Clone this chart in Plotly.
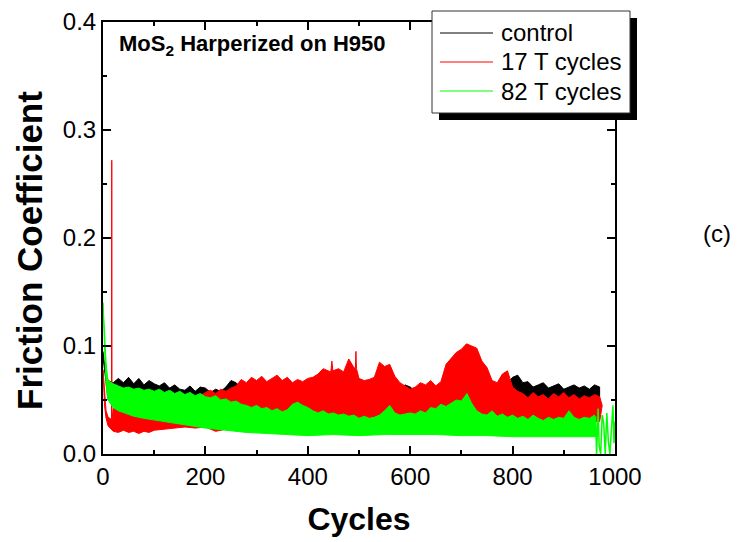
import plotly.graph_objects as go

# ---- friction traces, read as upper / lower envelopes of each noisy record ----
control_top_x = [0, 5, 10, 20, 30, 40, 50, 60, 70, 80, 90, 100,
                 110, 120, 130, 140, 150, 160, 170, 180, 190, 200,
                 210, 220, 230, 240, 250, 260, 270, 280, 290, 300,
                 310, 320, 330, 340, 350, 360, 370, 380, 390, 400,
                 410, 420, 430, 440, 450, 460, 470, 480, 490, 500,
                 510, 520, 530, 540, 550, 560, 570, 580, 590, 600,
                 610, 620, 630, 640, 650, 660, 670, 680, 690, 700,
                 710, 720, 730, 740, 750, 760, 770, 780, 790, 800,
                 810, 820, 830, 840, 850, 860, 870, 880, 890, 900,
                 910, 920, 930, 940, 950, 960, 970]
control_top = [0.095, 0.075, 0.068, 0.066, 0.070, 0.066, 0.071, 0.065, 0.070, 0.064, 0.068, 0.065,
               0.063, 0.066, 0.061, 0.064, 0.060, 0.059, 0.063, 0.058, 0.062, 0.061,
               0.057, 0.060, 0.058, 0.062, 0.068, 0.066, 0.061, 0.058, 0.057, 0.057,
               0.056, 0.058, 0.057, 0.056, 0.058, 0.056, 0.059, 0.062, 0.060, 0.056,
               0.056, 0.057, 0.056, 0.057, 0.056, 0.057, 0.056, 0.057, 0.056, 0.057,
               0.056, 0.057, 0.056, 0.057, 0.056, 0.057, 0.058, 0.060, 0.064, 0.062,
               0.058, 0.063, 0.060, 0.064, 0.062, 0.060, 0.058, 0.058, 0.058, 0.058,
               0.058, 0.058, 0.058, 0.058, 0.058, 0.058, 0.058, 0.058, 0.066, 0.071,
               0.073, 0.066, 0.067, 0.062, 0.064, 0.066, 0.061, 0.063, 0.065, 0.060,
               0.062, 0.064, 0.061, 0.063, 0.060, 0.064, 0.062]
control_bottom_x = [0, 10, 50, 150, 300, 500, 700, 900, 970]
control_bottom = [0.090, 0.050, 0.047, 0.045, 0.043, 0.043, 0.043, 0.043, 0.043]

t17_top_x = [0, 3, 6, 10, 16.6, 17.1, 17.6, 20, 40, 60, 80, 100, 120, 140, 160, 180, 190,
             200, 210, 220, 230, 240, 250, 260, 270, 280, 290, 300,
             310, 320, 330, 340, 350, 360, 370, 380, 390, 400,
             410, 420, 430, 440, 445, 447, 449, 460, 470, 480, 490, 493, 494, 495, 500,
             510, 520, 530, 540, 550, 560, 570, 580, 590, 600,
             610, 620, 630, 640, 650, 660, 670, 680, 690, 700,
             710, 720, 730, 740, 750, 760, 770, 780, 790, 800,
             810, 820, 830, 840, 850, 860, 870, 880, 890, 900,
             910, 920, 930, 940, 950, 960, 970, 975]
t17_top = [0.078, 0.055, 0.040, 0.034, 0.032, 0.272, 0.032, 0.042, 0.045, 0.046, 0.047, 0.048,
           0.049, 0.050, 0.050, 0.052, 0.054,
           0.057, 0.059, 0.056, 0.060, 0.058, 0.061, 0.063, 0.069, 0.066, 0.071, 0.068,
           0.072, 0.067, 0.070, 0.073, 0.068, 0.071, 0.066, 0.069, 0.067, 0.070,
           0.071, 0.074, 0.079, 0.077, 0.076, 0.086, 0.077, 0.079, 0.076, 0.088, 0.080, 0.079, 0.095, 0.079, 0.070,
           0.068, 0.069, 0.071, 0.085, 0.081, 0.083, 0.072, 0.066, 0.063, 0.060,
           0.062, 0.066, 0.064, 0.068, 0.063, 0.067, 0.083, 0.088, 0.094, 0.097,
           0.102, 0.100, 0.098, 0.086, 0.080, 0.068, 0.066, 0.074, 0.077, 0.062,
           0.058, 0.056, 0.052, 0.057, 0.053, 0.055, 0.051, 0.056, 0.053, 0.057,
           0.052, 0.055, 0.051, 0.054, 0.052, 0.055, 0.053, 0.045]
t17_bottom_x = [0, 3, 6, 10, 20, 30, 40, 50, 60, 70, 80, 90, 100, 120, 140, 160, 180,
                200, 220, 240, 260, 280, 300, 500, 700, 900, 970, 975]
t17_bottom = [0.078, 0.045, 0.033, 0.026, 0.021, 0.020, 0.022, 0.020, 0.021, 0.019, 0.021, 0.020,
              0.022, 0.023, 0.024, 0.025, 0.024, 0.025, 0.021, 0.023, 0.022, 0.026, 0.030,
              0.030, 0.030, 0.030, 0.030, 0.045]

t82_top_x = [0, 2, 4, 6, 8, 10, 20, 30, 40, 50, 60, 70, 80, 90, 100,
             110, 120, 130, 140, 150, 160, 170, 180, 190, 200,
             210, 220, 230, 240, 250, 260, 270, 280, 290, 300,
             310, 320, 330, 340, 350, 360, 370, 380, 390, 400,
             410, 420, 430, 440, 450, 460, 470, 480, 490, 500,
             510, 520, 530, 540, 550, 560, 570, 580, 590, 600,
             610, 620, 630, 640, 650, 660, 670, 680, 690, 700, 711,
             720, 730, 740, 750, 760, 770, 780, 790, 800,
             810, 820, 830, 840, 850, 860, 870, 880, 890, 900,
             910, 920, 930, 940, 950, 960, 962]
t82_top = [0.140, 0.118, 0.098, 0.085, 0.075, 0.068,
           0.065, 0.063, 0.061, 0.062, 0.060, 0.061, 0.059, 0.060, 0.058,
           0.060, 0.057, 0.059, 0.056, 0.058, 0.055, 0.057, 0.054, 0.056, 0.053,
           0.052, 0.054, 0.050, 0.051, 0.048, 0.049, 0.046, 0.045, 0.043, 0.045,
           0.042, 0.043, 0.040, 0.042, 0.039, 0.041, 0.046, 0.048, 0.045, 0.043,
           0.040, 0.038, 0.040, 0.037, 0.038, 0.036, 0.037, 0.035, 0.036, 0.033,
           0.035, 0.033, 0.034, 0.036, 0.040, 0.045, 0.038, 0.036, 0.037, 0.038,
           0.037, 0.040, 0.038, 0.043, 0.042, 0.046, 0.044, 0.047, 0.050, 0.049, 0.056,
           0.047, 0.040, 0.037, 0.036, 0.040, 0.035, 0.037, 0.034, 0.036,
           0.033, 0.035, 0.032, 0.036, 0.033, 0.031, 0.034, 0.032, 0.034, 0.033,
           0.040, 0.034, 0.032, 0.034, 0.033, 0.036, 0.030]
t82_bottom_x = [0, 2, 4, 6, 8, 10, 20, 30, 40, 60, 80, 100, 130, 160, 200, 240, 280, 320,
                360, 400, 450, 500, 550, 600, 650, 700, 750, 800, 850, 900, 962]
t82_bottom = [0.140, 0.110, 0.085, 0.065, 0.055, 0.050, 0.043, 0.040, 0.038, 0.035, 0.033,
              0.031, 0.029, 0.027, 0.024, 0.022, 0.020, 0.019, 0.018, 0.017, 0.018, 0.017,
              0.018, 0.018, 0.018, 0.017, 0.017, 0.016, 0.016, 0.016, 0.016]
# end of the 82 T record, where the signal drops in and out
t82_tail_x = [962, 964, 967, 969, 972, 975, 978, 981, 984, 987, 990, 993, 996, 998, 1000]
t82_tail = [0.035, 0.0, 0.042, 0.008, 0.0, 0.036, 0.028, 0.0, 0.038, 0.012, 0.0, 0.025,
            0.045, 0.010, 0.030]

series_names = ["control", "17 T cycles", "82 T cycles"]
series_colors = ["#000000", "#FF0000", "#00FF00"]

x_ticks = [0, 200, 400, 600, 800, 1000]
y_ticks = [0.0, 0.1, 0.2, 0.3, 0.4]

W, H = 738, 542
ML, MR, MT, MB = 103, 123, 22, 88
PW, PH = W - ML - MR, H - MT - MB

FONT = "Arial, Liberation Sans, Helvetica, sans-serif"


def band(top_x, top_y, bot_x, bot_y):
    """Closed outline: upper envelope left-to-right, lower envelope back."""
    return list(top_x) + list(bot_x)[::-1], list(top_y) + list(bot_y)[::-1]


def px(xp):
    return (xp - ML) / PW


def py(yp):
    return (H - MB - yp) / PH


fig = go.Figure()

bands = [
    (control_top_x, control_top, control_bottom_x, control_bottom),
    (t17_top_x, t17_top, t17_bottom_x, t17_bottom),
    (t82_top_x, t82_top, t82_bottom_x, t82_bottom),
]
for (tx, ty, bx, by), name, color in zip(bands, series_names, series_colors):
    xs, ys = band(tx, ty, bx, by)
    fig.add_trace(go.Scatter(
        x=xs, y=ys, mode="lines", fill="toself", fillcolor=color,
        line=dict(color=color, width=1), name=name, showlegend=False,
        hoverinfo="skip"))

fig.add_trace(go.Scatter(
    x=t82_tail_x, y=t82_tail, mode="lines",
    line=dict(color=series_colors[2], width=1.5), showlegend=False,
    hoverinfo="skip"))

axis_common = dict(
    showline=True, linecolor="black", linewidth=2, mirror="ticks",
    ticks="inside", ticklen=8, tickwidth=2, tickcolor="black",
    showgrid=False, zeroline=False,
    tickfont=dict(family=FONT, size=24, color="black"),
)

fig.update_xaxes(
    range=[0, 1000], tickvals=x_ticks, ticktext=[str(v) for v in x_ticks],
    minor=dict(dtick=100, ticks="inside", ticklen=4, tickwidth=2, tickcolor="black"),
    title=dict(text="Cycles", font=dict(family=FONT, size=32, color="black", weight="bold"),
               standoff=19),
    **axis_common)
fig.update_yaxes(
    range=[0, 0.4], tickvals=y_ticks, ticktext=[f"{v:.1f}" for v in y_ticks],
    minor=dict(dtick=0.05, ticks="inside", ticklen=4, tickwidth=2, tickcolor="black"),
    **axis_common)

# legend box with a drop shadow
shapes = [
    dict(type="rect", xref="paper", yref="paper", layer="above",
         x0=px(439), x1=px(637), y0=py(120), y1=py(18),
         fillcolor="black", line=dict(width=0)),
    dict(type="rect", xref="paper", yref="paper", layer="above",
         x0=px(432), x1=px(630), y0=py(113), y1=py(11),
         fillcolor="white", line=dict(color="#333333", width=1)),
]
annotations = []
for i, (name, color) in enumerate(zip(series_names, series_colors)):
    yc = 33 + 29 * i
    shapes.append(dict(type="line", xref="paper", yref="paper", layer="above",
                       x0=px(440), x1=px(493), y0=py(yc), y1=py(yc),
                       line=dict(color=color, width=1)))
    annotations.append(dict(xref="paper", yref="paper", x=px(499), y=py(yc),
                            xanchor="left", yanchor="middle", showarrow=False,
                            text=name, font=dict(family=FONT, size=24, color="black")))

# y-axis title
annotations.append(dict(xref="paper", yref="paper", x=px(29), y=py(251),
                        xanchor="center", yanchor="middle", showarrow=False,
                        textangle=-90, text="<b>Friction Coefficient</b>",
                        font=dict(family=FONT, size=35, color="black")))
annotations.append(dict(xref="paper", yref="paper", x=px(117), y=py(45),
                        xanchor="left", yanchor="middle", showarrow=False,
                        text="<b>MoS<sub>2</sub> Harperized on H950</b>",
                        font=dict(family=FONT, size=22, color="black")))
annotations.append(dict(xref="paper", yref="paper", x=px(717), y=py(233),
                        xanchor="center", yanchor="middle", showarrow=False,
                        text="(c)", font=dict(family=FONT, size=24, color="black")))

fig.update_layout(
    width=W, height=H,
    margin=dict(l=ML, r=MR, t=MT, b=MB, autoexpand=False),
    paper_bgcolor="white", plot_bgcolor="white",
    showlegend=False, shapes=shapes, annotations=annotations,
)

fig.write_html("out.html")
